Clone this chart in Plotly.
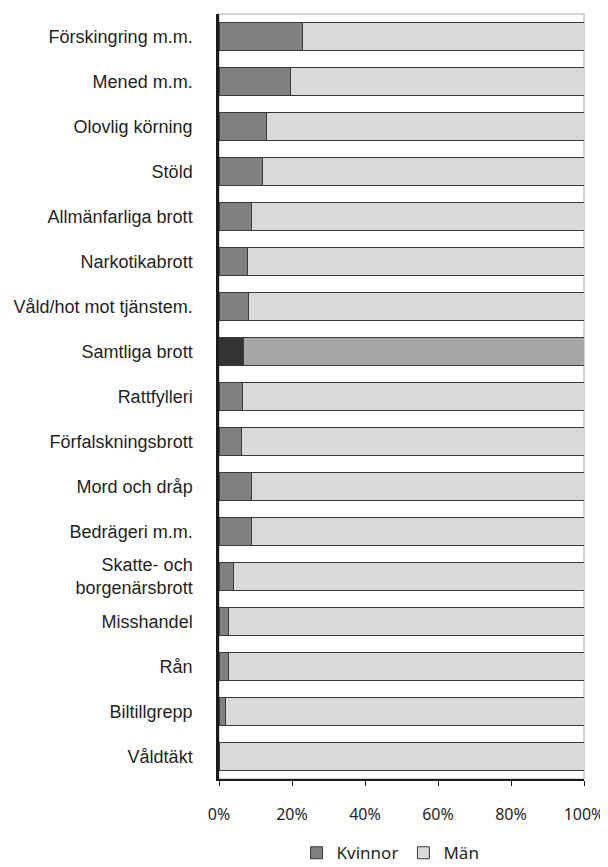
import plotly.graph_objects as go

categories = ["Förskingring m.m.", "Mened m.m.", "Olovlig körning", "Stöld",
              "Allmänfarliga brott", "Narkotikabrott", "Våld/hot mot tjänstem.",
              "Samtliga brott", "Rattfylleri", "Förfalskningsbrott", "Mord och dråp",
              "Bedrägeri m.m.", "Skatte- och<br>borgenärsbrott", "Misshandel", "Rån",
              "Biltillgrepp", "Våldtäkt"]
kvinnor = [23, 19.5, 12.9, 11.8, 9.0, 7.9, 8.1, 6.8, 6.5, 6.1, 9.0, 9.0, 4.1, 2.6, 2.7, 1.8, 0.2]
man = [round(100 - k, 1) for k in kvinnor]

k_colors = ["#333333" if c == "Samtliga brott" else "#808080" for c in categories]
m_colors = ["#a6a6a6" if c == "Samtliga brott" else "#d9d9d9" for c in categories]

fig = go.Figure()
fig.add_trace(go.Bar(y=categories, x=kvinnor, name="Kvinnor", orientation="h",
                     marker=dict(color=k_colors, line=dict(color="#3a3a3a", width=1))))
fig.add_trace(go.Bar(y=categories, x=man, name="Män", orientation="h",
                     marker=dict(color=m_colors, line=dict(color="#3a3a3a", width=1))))

fig.update_layout(
    barmode="stack",
    bargap=0.36,
    width=600, height=859,
    margin=dict(l=211, r=24, t=6, b=88, autoexpand=False),
    paper_bgcolor="white", plot_bgcolor="white",
    font=dict(family="Liberation Sans, Arial, sans-serif", size=18, color="#1f1f1f"),
    showlegend=True,
    legend=dict(orientation="h", x=0.47, xanchor="center", y=-0.097, yanchor="middle",
                font=dict(family="Noto Sans, sans-serif", size=17), itemwidth=30,
                traceorder="normal", tracegroupgap=0),
    shapes=[dict(type="rect", xref="paper", yref="paper", x0=0, x1=1, y0=0, y1=1,
                 line=dict(color="#c8c8c8", width=1.5), layer="below")],
)
fig.update_xaxes(range=[0, 100], tickvals=[0, 20, 40, 60, 80, 100],
                 ticktext=["0%", "20%", "40%", "60%", "80%", "100%"],
                 tickfont=dict(family="Noto Sans, sans-serif", size=16),
                 showgrid=False, zeroline=False, showline=True, linecolor="#1a1a1a",
                 linewidth=2, ticks="outside", ticklen=5, tickcolor="#1a1a1a",
                 ticklabelstandoff=15, automargin=False)
fig.update_yaxes(autorange="reversed", showgrid=False, zeroline=False, showline=True,
                 linecolor="#1a1a1a", linewidth=2.5, ticks="", ticklabelstandoff=20,
                 automargin=False)

fig.write_html("out.html")
